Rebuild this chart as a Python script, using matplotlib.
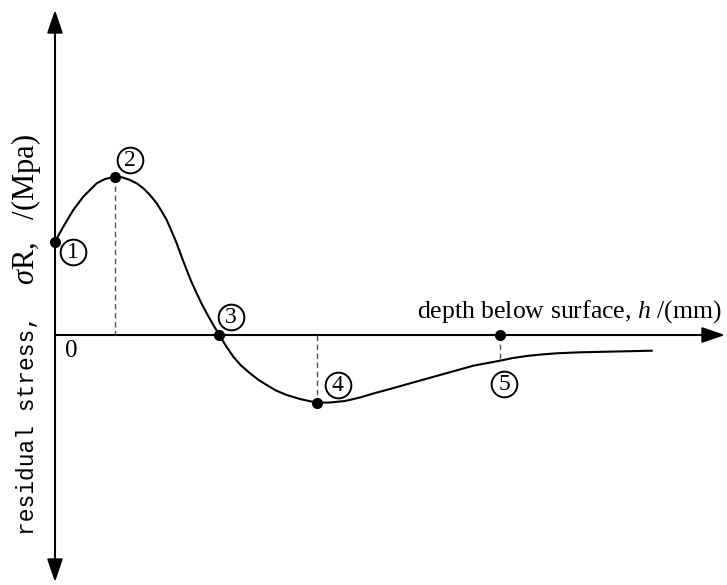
import matplotlib.pyplot as plt
from matplotlib.patches import FancyArrowPatch

plt.rcParams['mathtext.fontset'] = 'custom'
plt.rcParams['mathtext.rm'] = 'Liberation Serif'
plt.rcParams['mathtext.it'] = 'Liberation Serif:italic'

# residual stress profile traced along depth (schematic units)
depth = [0.000, 0.083, 0.183, 0.283, 0.417, 0.50, 0.60, 0.67, 0.75, 0.82,
         0.883, 0.95, 1.017, 1.065, 1.117, 1.165, 1.217, 1.265, 1.317, 1.365,
         1.417, 1.465, 1.517, 1.58, 1.643, 1.71, 1.783, 1.86, 1.95, 2.03,
         2.117, 2.21, 2.317, 2.45, 2.617, 2.75, 2.90, 3.05, 3.183, 3.35,
         3.517, 3.85, 4.183, 4.45, 4.58, 4.717, 4.86, 5.017, 5.25, 5.517,
         5.75, 5.967]
stress = [0.933, 1.083, 1.25, 1.383, 1.517, 1.56, 1.583, 1.577, 1.55, 1.515,
          1.467, 1.40, 1.317, 1.24, 1.15, 1.04, 0.917, 0.785, 0.65, 0.53,
          0.417, 0.315, 0.217, 0.105, 0.0, -0.11, -0.217, -0.305, -0.383, -0.445,
          -0.50, -0.555, -0.60, -0.64, -0.677, -0.675, -0.66, -0.625, -0.585, -0.54,
          -0.493, -0.40, -0.307, -0.257, -0.23, -0.21, -0.195, -0.183, -0.173, -0.167,
          -0.162, -0.157]

# marked points
pt_h = [0.0, 0.60, 1.643, 2.617, 4.45]
pt_s = [0.933, 1.583, 0.0, -0.677, 0.0]
pt_labels = ['1', '2', '3', '4', '5']
label_dx = [0.18, 0.15, 0.117, 0.208, 0.04]
label_dy = [-0.10, 0.167, 0.18, 0.177, -0.485]

# dashed drop lines: (depth, from, to)
drop_h = [0.60, 2.617, 4.45]
drop_top = [1.583, 0.0, 0.0]
drop_bot = [0.0, -0.677, -0.257]

fig = plt.figure(figsize=(7.27, 5.85), dpi=100)
ax = fig.add_axes([0, 0, 1, 1])
ax.set_xlim(-0.55, 6.72)
ax.set_ylim(-2.50, 3.35)
ax.axis('off')

# axes with arrow heads
ya = FancyArrowPatch((0, -2.47), (0, 3.25), arrowstyle='<|-|>,head_length=14,head_width=4.8',
                     mutation_scale=1, lw=1.5, color='black', shrinkA=0, shrinkB=0)
xa = FancyArrowPatch((0, 0), (6.70, 0), arrowstyle='-|>,head_length=14,head_width=4.8',
                     mutation_scale=1, lw=1.5, color='black', shrinkA=0, shrinkB=0)
ax.add_patch(ya)
ax.add_patch(xa)

for h, a, b in zip(drop_h, drop_top, drop_bot):
    ax.plot([h, h], [a, b], color='#555555', lw=1.0, ls=(0, (4, 2.5)))

ax.plot(depth, stress, color='black', lw=1.5, solid_joinstyle='round')
ax.plot(pt_h, pt_s, 'o', color='black', ms=7, zorder=5)

# circled point numbers
for h, s, lab, dx, dy in zip(pt_h, pt_s, pt_labels, label_dx, label_dy):
    ax.plot(h + dx, s + dy, 'o', ms=18.5, mfc='white', mec='black', mew=1.4, zorder=6)
    ax.text(h + dx, s + dy - 0.005, lab, ha='center', va='center', fontsize=17,
            family='Liberation Serif', zorder=7)

ax.text(0.16, -0.16, '0', ha='center', va='center', fontsize=18, family='Liberation Serif')

ax.text(6.67, 0.23, 'depth below surface, $h$ /(mm)', ha='right', va='center',
        fontsize=18.5, family='Liberation Serif')

ax.text(-0.21, -2.0, 'residual stress,', rotation=90, rotation_mode='anchor',
        ha='left', va='baseline', fontsize=16.5, family='Liberation Mono')
ax.text(-0.21, 0.50, r'$\sigma$R,   /(Mpa)', rotation=90, rotation_mode='anchor',
        ha='left', va='baseline', fontsize=22, family='Liberation Serif')

fig.savefig('out.png', dpi=100)
